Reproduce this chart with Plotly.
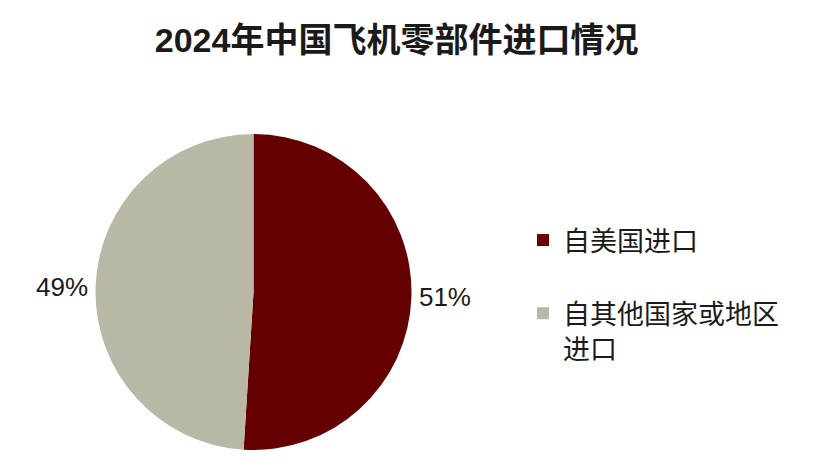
import plotly.graph_objects as go

title_text = "2024年中国飞机零部件进口情况"
labels = ["自美国进口<br> ", "自其他国家或地区<br>进口"]
values = [51, 49]
colors = ["#650000", "#b9b8a6"]

W, H = 813, 468
cx, cy, r = 245.5, 284, 158

fig = go.Figure(go.Pie(
    labels=labels,
    values=values,
    sort=False,
    direction="clockwise",
    rotation=0,
    marker=dict(colors=colors, line=dict(width=0)),
    textinfo="percent",
    texttemplate="%{percent:.0%}",
    textposition="outside",
    outsidetextfont=dict(size=26, color="#1a1a1a"),
    domain=dict(x=[(cx - r) / W, (cx + r) / W], y=[(H - cy - r) / H, (H - cy + r) / H]),
    showlegend=True,
))

font_family = "Liberation Sans, Arial, Noto Sans CJK SC, sans-serif"
fig.update_layout(
    width=W, height=H,
    margin=dict(l=0, r=0, t=0, b=0),
    paper_bgcolor="white",
    plot_bgcolor="white",
    font=dict(family=font_family, color="#1a1a1a"),
    title=dict(text="<b>" + title_text + "</b>", x=0.478, xanchor="center", y=1 - 32 / H, yanchor="middle",
               yref="container", font=dict(size=34, color="#1a1a1a")),
    legend=dict(x=515 / W, xanchor="left", y=1 - 208 / H, yanchor="top",
                font=dict(size=27, color="#1a1a1a"), valign="top",
                bgcolor="rgba(0,0,0,0)", traceorder="normal"),
)

fig.write_html("out.html")
